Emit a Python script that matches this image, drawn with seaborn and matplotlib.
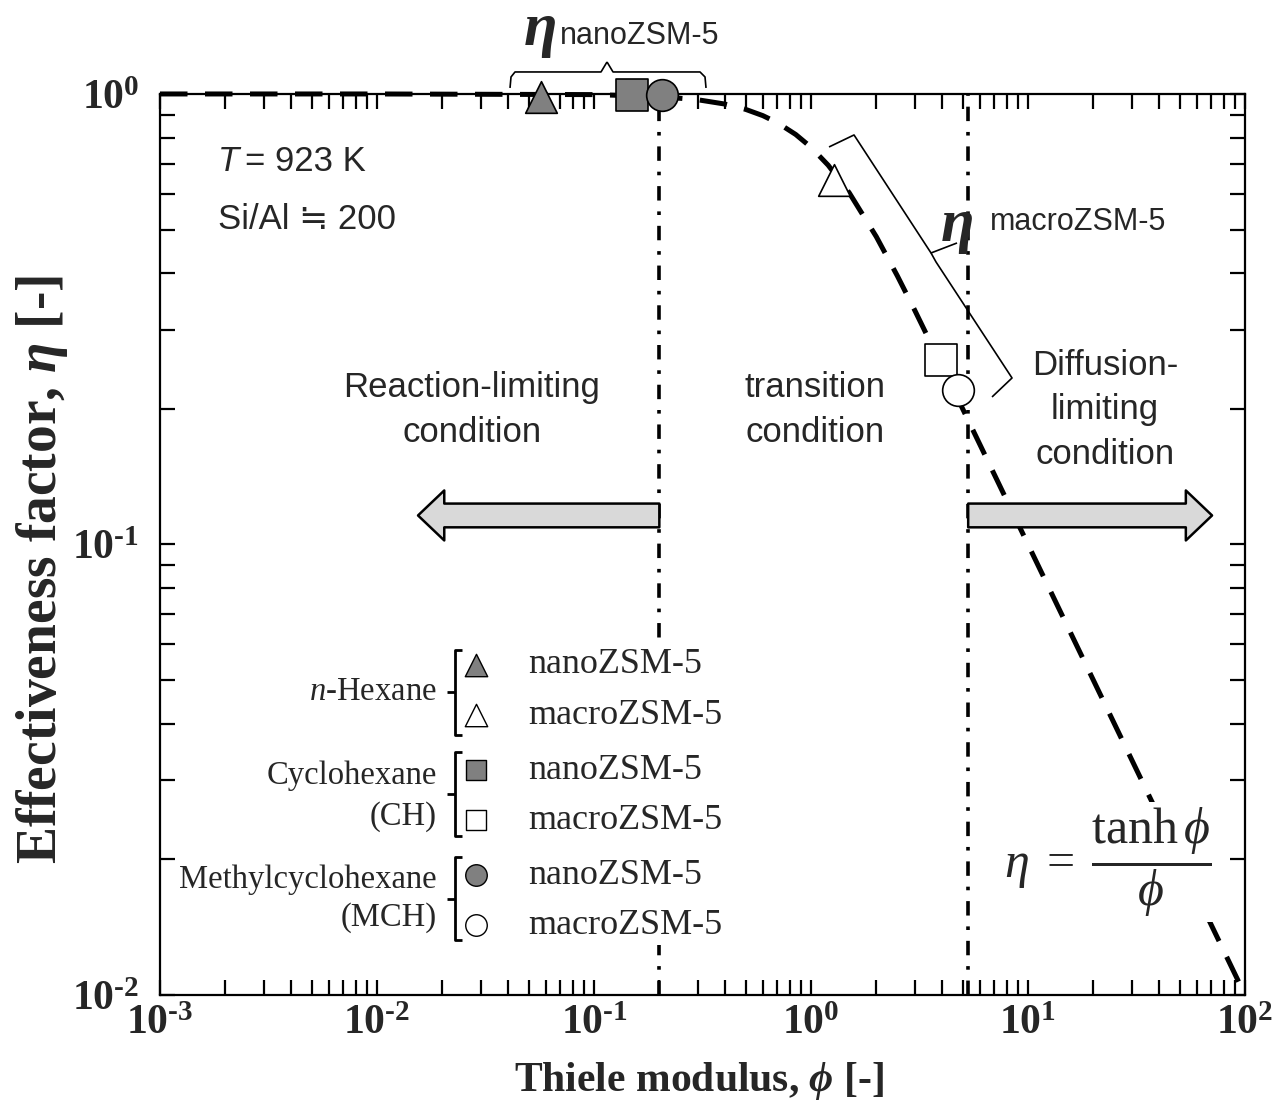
import matplotlib
matplotlib.use("Agg")
import matplotlib.pyplot as plt
from matplotlib.patches import FancyArrowPatch, Rectangle
import seaborn as sns

# dashed model curve
phi_curve = [0.001, 0.01, 0.1, 0.2, 0.3, 0.4, 0.5, 0.6, 0.7, 0.85, 1.0, 1.2, 1.5, 2.0, 2.5,
             3.0, 4.0, 5.0, 7.0, 10.0, 20.0, 50.0, 100.0]
eta_curve = [1.0, 1.0, 0.9967, 0.9869, 0.971, 0.9499, 0.9242, 0.8951, 0.8634, 0.813, 0.7616,
             0.6947, 0.6034, 0.482, 0.3946, 0.3317, 0.2498, 0.2, 0.1429, 0.1, 0.05, 0.02, 0.01]

# measured points
feeds = ["n-Hexane", "Cyclohexane (CH)", "Methylcyclohexane (MCH)"]
markers = ["^", "s", "o"]
nano_phi = [0.057, 0.150, 0.206]
nano_eta = [0.985, 0.995, 0.995]
macro_phi = [1.28, 3.97, 4.76]
macro_eta = [0.644, 0.257, 0.220]

# region borders
phi_borders = [0.2, 5.3]

x_ticks = [1e-3, 1e-2, 1e-1, 1e0, 1e1, 1e2]
x_exps = ["\u20103", "\u20102", "\u20101", "0", "1", "2"]
y_ticks = [1e-2, 1e-1, 1e0]
y_exps = ["\u20102", "\u20101", "0"]

sns.set_style("ticks")
plt.rcParams["font.family"] = ["Liberation Serif", "DejaVu Serif"]
plt.rcParams["mathtext.fontset"] = "custom"
plt.rcParams["mathtext.rm"] = "Liberation Serif"
plt.rcParams["mathtext.it"] = "Liberation Serif:italic"
plt.rcParams["mathtext.bf"] = "Liberation Serif:bold"
plt.rcParams["mathtext.bfit"] = "Liberation Serif:bold:italic"

SANS = ["Liberation Sans", "DejaVu Sans"]
GRAY = "#808080"

fig = plt.figure(figsize=(12.78, 11.12), dpi=100)
ax = fig.add_axes([0.1252, 0.1052, 0.849, 0.8103])


def px(x, y):
    # pixel position of the reference -> axes fraction
    return (x - 160) / 1085, (995 - y) / 901


def poly(points, lw=1.2):
    xs, ys = zip(*[px(a, b) for a, b in points])
    ax.plot(xs, ys, color="black", lw=lw, transform=ax.transAxes, clip_on=False,
            solid_capstyle="butt", solid_joinstyle="round", zorder=7)


sns.lineplot(x=phi_curve, y=eta_curve, ax=ax, color="black", lw=3.6,
             linestyle=(0, (5.5, 3.5)), clip_on=False, zorder=3)

for b in phi_borders:
    ax.axvline(b, color="black", lw=2.6, linestyle=(0, (4, 3, 1, 3)), zorder=2)

for i in range(3):
    sns.scatterplot(x=[nano_phi[i]], y=[nano_eta[i]], marker=markers[i], s=520,
                    color=GRAY, edgecolor="black", linewidth=1.2, ax=ax,
                    clip_on=False, zorder=6)
    sns.scatterplot(x=[macro_phi[i]], y=[macro_eta[i]], marker=markers[i], s=520,
                    color="white", edgecolor="black", linewidth=1.2, ax=ax,
                    clip_on=False, zorder=6)

ax.set_xscale("log")
ax.set_yscale("log")
ax.set_xlim(1e-3, 1e2)
ax.set_ylim(1e-2, 1)
ax.set_xticks(x_ticks)
ax.set_xticklabels([r"$\mathbf{10^{%s}}$" % e for e in x_exps])
ax.set_yticks(y_ticks)
ax.set_yticklabels([r"$\mathbf{10^{%s}}$" % e for e in y_exps])
ax.tick_params(which="both", direction="in", top=True, right=True, length=11, width=1.6,
               color="black")
ax.tick_params(axis="x", which="major", pad=7, labelsize=30)
ax.tick_params(axis="y", which="major", pad=15, labelsize=30)
for s in ax.spines.values():
    s.set_linewidth(1.6)
    s.set_color("black")

ax.set_xlabel(r"Thiele modulus, $\mathbfit{\phi}$ [-]", fontsize=30, fontweight="bold")
ax.set_ylabel(r"Effectiveness factor, $\mathbfit{\eta}$ [-]", fontsize=40, fontweight="bold")
ax.xaxis.set_label_coords(0.497, -0.072)
ax.yaxis.set_label_coords(-0.083, 0.472)

# region arrows
y_arrow = 0.116
for x0, x1 in [(phi_borders[0], 0.01545), (phi_borders[1], 70.5)]:
    ar = FancyArrowPatch((x0, y_arrow), (x1, y_arrow),
                         arrowstyle="simple,head_length=1.05,head_width=2.0,tail_width=0.95",
                         mutation_scale=18, facecolor="#d9d9d9", edgecolor="black",
                         lw=1.8, shrinkA=0, shrinkB=0, zorder=4)
    ax.add_patch(ar)

# region texts
for cx, txt in [(472, "Reaction-limiting\ncondition"), (815, "transition\ncondition"),
                (1105, "Diffusion-\nlimiting\ncondition")]:
    x, y = px(cx, 410)
    ax.text(x, y, txt, transform=ax.transAxes, ha="center", va="center",
            family=SANS, fontsize=25, linespacing=1.45)

x, y = px(218, 162)
ax.text(x, y, "T", transform=ax.transAxes, ha="left", va="center", family=SANS,
        fontsize=25, style="italic")
x, y = px(245, 162)
ax.text(x, y, "= 923 K", transform=ax.transAxes, ha="left", va="center", family=SANS,
        fontsize=25)
x, y = px(218, 220)
ax.text(x, y, "Si/Al \u2252 200", transform=ax.transAxes, ha="left", va="center",
        family=SANS, fontsize=25)

# eta labels with braces
x, y = px(540, 30)
ax.text(x, y, "\u03b7", transform=ax.transAxes, ha="center", va="center", fontsize=44,
        style="italic", fontweight="bold")
x, y = px(560, 36)
ax.text(x, y, "nanoZSM-5", transform=ax.transAxes, ha="left", va="center", family=SANS,
        fontsize=22)
poly([(510, 88), (511, 77), (515, 72), (601, 72), (607, 62)])
poly([(607, 62), (613, 72), (700, 72), (705, 77), (706, 88)])

x, y = px(957, 226)
ax.text(x, y, "\u03b7", transform=ax.transAxes, ha="center", va="center", fontsize=44,
        style="italic", fontweight="bold")
x, y = px(990, 222)
ax.text(x, y, "macroZSM-5", transform=ax.transAxes, ha="left", va="center", family=SANS,
        fontsize=22)
poly([(829, 147), (854, 135), (931, 253), (957, 243)])
poly([(931, 253), (936, 262), (1012, 378), (992, 397)])

# formula
x, y = px(1108, 862)
ax.text(x, y, r"$\eta\;=\;\dfrac{\tanh\phi}{\phi}$", transform=ax.transAxes, ha="center",
        va="center", fontsize=36, zorder=5,
        bbox=dict(facecolor="white", edgecolor="none", pad=2))

# hand-made legend
x0, y0 = px(180, 945)
x1, y1 = px(735, 645)
ax.add_patch(Rectangle((x0, y0), x1 - x0, y1 - y0, transform=ax.transAxes,
                       facecolor="white", edgecolor="none", zorder=4))
rows = [665, 715, 770, 820, 875, 925]
sizes = [260, 260, 210, 210, 240, 240]
for k in range(6):
    i = k // 2
    fc = GRAY if k % 2 == 0 else "white"
    x, y = px(476, rows[k])
    sns.scatterplot(x=[x], y=[y], marker=markers[i], s=sizes[k], color=fc,
                    edgecolor="black", linewidth=1.0, ax=ax, transform=ax.transAxes,
                    clip_on=False, zorder=6)
    x, y = px(528, rows[k])
    ax.text(x, y, "nanoZSM-5" if k % 2 == 0 else "macroZSM-5", transform=ax.transAxes,
            ha="left", va="center", fontsize=26, zorder=5)

groups = [(650, 735), (752, 836), (857, 940)]
for (top, bot) in groups:
    mid = (top + bot) / 2
    poly([(462, top), (455, top), (455, bot), (462, bot)], lw=2.0)
    poly([(447, mid), (455, mid)], lw=2.0)

group_texts = [("$\\mathit{n}$-Hexane", 692), ("Cyclohexane", 776), ("(CH)", 817),
               ("Methylcyclohexane", 880), ("(MCH)", 918)]
for txt, yy in group_texts:
    x, y = px(437, yy)
    ax.text(x, y, txt, transform=ax.transAxes, ha="right", va="center", fontsize=23.5,
            zorder=5)

fig.savefig("out.png", dpi=100)
